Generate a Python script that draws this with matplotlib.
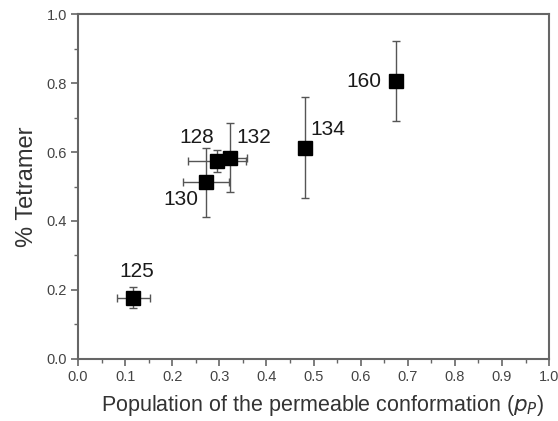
import matplotlib
matplotlib.use("Agg")
import matplotlib.pyplot as plt
from matplotlib.ticker import MultipleLocator

labels = ["125", "128", "130", "132", "134", "160"]
pp = [0.117, 0.295, 0.271, 0.323, 0.481, 0.674]
tetramer = [0.178, 0.574, 0.512, 0.584, 0.613, 0.806]
pp_err = [0.035, 0.062, 0.049, 0.035, 0.0, 0.0]
tet_err = [0.030, 0.033, 0.100, 0.099, 0.147, 0.115]
label_x = [0.125, 0.252, 0.219, 0.374, 0.531, 0.607]
label_y = [0.253, 0.641, 0.461, 0.641, 0.664, 0.804]

plt.rcParams['font.family'] = ['Liberation Sans', 'DejaVu Sans']

fig = plt.figure(figsize=(5.58, 4.21), dpi=100)
ax = fig.add_axes([0.1398, 0.1473, 0.984 - 0.1398, 0.9667 - 0.1473])

ax.errorbar(pp, tetramer, xerr=pp_err, yerr=tet_err, fmt='s', color='black',
            markersize=9.5, ecolor='#555555', elinewidth=1.0, capsize=3, capthick=1.0,
            zorder=3)

for lab, lx, ly in zip(labels, label_x, label_y):
    ax.text(lx, ly, lab, ha='center', va='center', fontsize=15, color='#1a1a1a')

ax.set_xlim(0, 1.0)
ax.set_ylim(0, 1.0)
ax.xaxis.set_major_locator(MultipleLocator(0.1))
ax.xaxis.set_minor_locator(MultipleLocator(0.05))
ax.yaxis.set_major_locator(MultipleLocator(0.2))
ax.yaxis.set_minor_locator(MultipleLocator(0.1))
ax.set_xticklabels([f"{v:.1f}" for v in ax.get_xticks()])
ax.set_yticklabels([f"{v:.1f}" for v in ax.get_yticks()])

for s in ax.spines.values():
    s.set_color('#666666')
    s.set_linewidth(1.5)
ax.tick_params(which='major', direction='out', length=5, width=1.2, color='#666666',
               labelsize=10.5, labelcolor='#444444', pad=3)
ax.tick_params(which='minor', direction='out', length=3, width=1.0, color='#666666')

ax.set_xlabel(r"Population of the permeable conformation ($\it{p_P}$)", fontsize=15.5,
              color='#333333')
ax.xaxis.set_label_coords(0.52, -0.1)
ax.set_ylabel("% Tetramer", fontsize=17, color='#333333', labelpad=6)

fig.savefig("out.png", dpi=100)
